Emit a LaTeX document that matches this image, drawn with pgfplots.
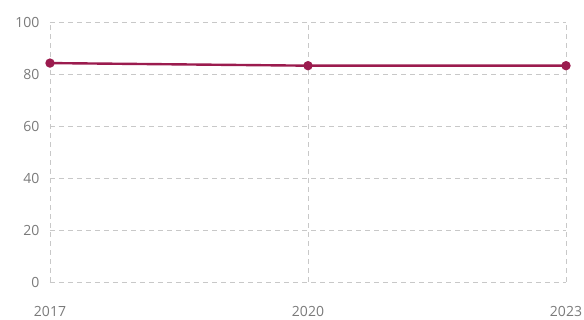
\documentclass[border=0pt]{standalone}
\usepackage{pgfplots}
\pgfplotsset{compat=1.18}
\usepackage{fontspec}
\setmainfont{Open Sans}
\definecolor{linec}{HTML}{9B1B4E}
\definecolor{gridc}{HTML}{C8C8C8}
\definecolor{tickc}{HTML}{7A7A7A}
\begin{document}
\begin{tikzpicture}
\path[use as bounding box] (-50pt,-38pt) rectangle (534pt,282pt);
\begin{axis}[
  at={(0pt,0pt)}, anchor=south west,
  scale only axis, width=516pt, height=260pt,
  xmin=2017, xmax=2023, ymin=0, ymax=100,
  xtick={2017,2020,2023}, ytick={0,20,40,60,80,100},
  xticklabels={2017,2020,2023},
  axis line style={draw=none},
  major tick style={draw=none},
  grid=major,
  major grid style={gridc, line width=0.8pt, dash pattern=on 5pt off 4pt},
  tick label style={tickc, font=\fontsize{14}{16}\selectfont},
  /pgf/number format/assume math mode=true,
  /pgf/number format/1000 sep={},
  xticklabel style={yshift=-21pt},
  yticklabel style={xshift=-7pt},
  clip=false,
]
\addplot[linec, line width=2.4pt, mark=*, mark size=3.4pt, mark options={fill=linec, draw=linec}]
  coordinates {(2017,84.2) (2020,83.2) (2023,83.2)};
\end{axis}
\end{tikzpicture}
\end{document}
